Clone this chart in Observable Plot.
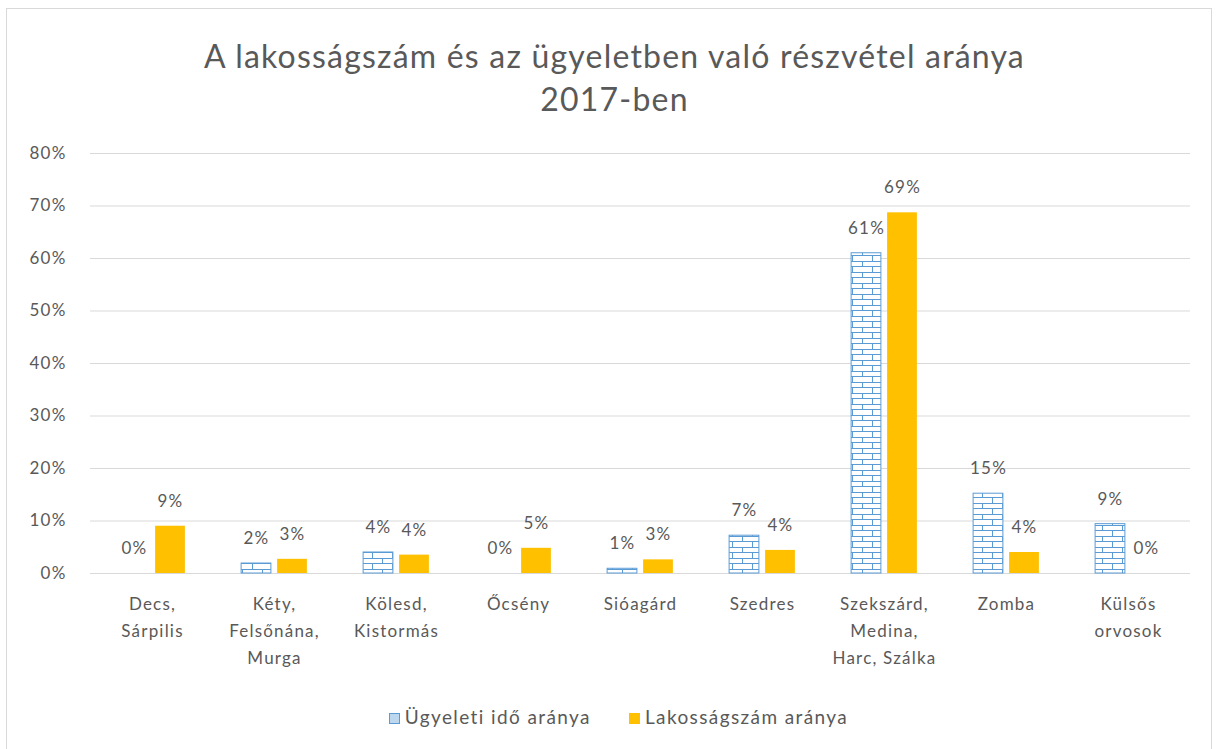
<!DOCTYPE html>
<html><head><meta charset="utf-8">
<script src="https://cdn.jsdelivr.net/npm/d3@7"></script>
<script src="https://cdn.jsdelivr.net/npm/@observablehq/plot@0.6"></script>
<style>
body{margin:0;background:#fff;font-family:Lato,sans-serif;overflow:hidden;width:1217px;height:749px}
#frame{position:absolute;left:6px;top:8px;width:1206px;height:800px;border:1px solid #d9d9d9;box-sizing:border-box}
#title{position:absolute;left:6px;top:34px;width:1217px;text-align:center;color:#595959;font-size:32px;line-height:43px;letter-spacing:1.2px}
#chart{position:absolute;left:0;top:140px}
#legend{position:absolute;top:704px;left:10px;width:1217px;text-align:center;color:#595959;font-size:19px;line-height:26px;letter-spacing:1.4px}
#legend .item{display:inline-block;margin:0 19px}
#legend svg{vertical-align:0px;margin-right:5px}
</style></head>
<body>
<div id="frame"></div>
<div id="title">A lakosságszám és az ügyeletben való részvétel aránya<br>2017-ben</div>
<div id="chart"></div>
<div id="legend"></div>
<script>
const categories = ["Decs,\nSárpilis","Kéty,\nFelsőnána,\nMurga","Kölesd,\nKistormás","Őcsény","Sióagárd","Szedres","Szekszárd,\nMedina,\nHarc, Szálka","Zomba","Külsős\norvosok"];
const seriesNames = ["Ügyeleti idő aránya","Lakosságszám aránya"];
const ugyeleti = [0,1.9,4.0,0,0.9,7.2,61,15.2,9.4];
const lakossag = [9.0,2.7,3.5,4.8,2.6,4.4,68.7,4.0,0];
const yTicks = [0,10,20,30,40,50,60,70,80];

const rowsA = categories.map((c,i)=>({cat:c, series:seriesNames[0], value:ugyeleti[i]}));
const rowsB = categories.map((c,i)=>({cat:c, series:seriesNames[1], value:lakossag[i]}));

const W = 1217, mL = 90, mR = 27;
const bw = (W - mL - mR) / categories.length;
const barW = 30, off = 18;
const inset = (bw - barW) / 2;
const fmt = d => Math.round(d) + "%";
const txt = {fill:"#595959", fontSize:17, lineAnchor:"middle", dy:-25};

const chart = Plot.plot({
  width: W, height: 560,
  marginLeft: mL, marginRight: mR, marginTop: 13, marginBottom: 127,
  style: {fontFamily:"Lato", background:"transparent", letterSpacing:"1.2px"},
  x: {domain: categories, padding: 0, label: null},
  y: {domain: [0,80], label: null},
  marks: [
    Plot.gridY(yTicks, {stroke:"#d9d9d9", strokeOpacity:1}),
    Plot.axisY({ticks: yTicks, tickSize:0, tickPadding:24, tickFormat: d=>d+"%", fontSize:17, color:"#595959", label:null}),
    Plot.axisX({tickSize:0, tickPadding:17, fontSize:17, lineHeight:1.6, color:"#595959", label:null}),
    Plot.barY(rowsA, {x:"cat", y:"value", dx:-off, insetLeft:inset, insetRight:inset, fill:"url(#brick)", stroke:"#5b9bd5", strokeWidth:1}),
    Plot.barY(rowsB, {x:"cat", y:"value", dx:off, insetLeft:inset, insetRight:inset, fill:"#ffc000"}),
    Plot.text(rowsA, {x:"cat", y:"value", text:d=>fmt(d.value), dx:-off, ...txt}),
    Plot.text(rowsB, {x:"cat", y:"value", text:d=>fmt(d.value), ...txt, dx:off})
  ]
});

const defs = d3.select(chart).insert("defs", ":first-child");
const pat = defs.append("pattern").attr("id","brick").attr("patternUnits","userSpaceOnUse").attr("width",20).attr("height",11);
pat.append("rect").attr("width",20).attr("height",11).attr("fill","#fff");
pat.append("path").attr("d","M0 0.5H20M0 5.5H20M0.5 0V5.5M10.5 5.5V11").attr("stroke","#5b9bd5").attr("stroke-width",1).attr("fill","none");
document.getElementById("chart").appendChild(chart);

const legendColors = [{fill:"#bdd7ee", stroke:"#5b9bd5"},{fill:"#ffc000", stroke:"#ffc000"}];
const lg = document.getElementById("legend");
seriesNames.forEach((s,i)=>{
  const span = document.createElement("span");
  span.className = "item";
  span.innerHTML = `<svg width="11" height="11"><rect x="0.5" y="0.5" width="10" height="10" fill="${legendColors[i].fill}" stroke="${legendColors[i].stroke}"/></svg>${s}`;
  lg.appendChild(span);
});
</script>
</body></html>
